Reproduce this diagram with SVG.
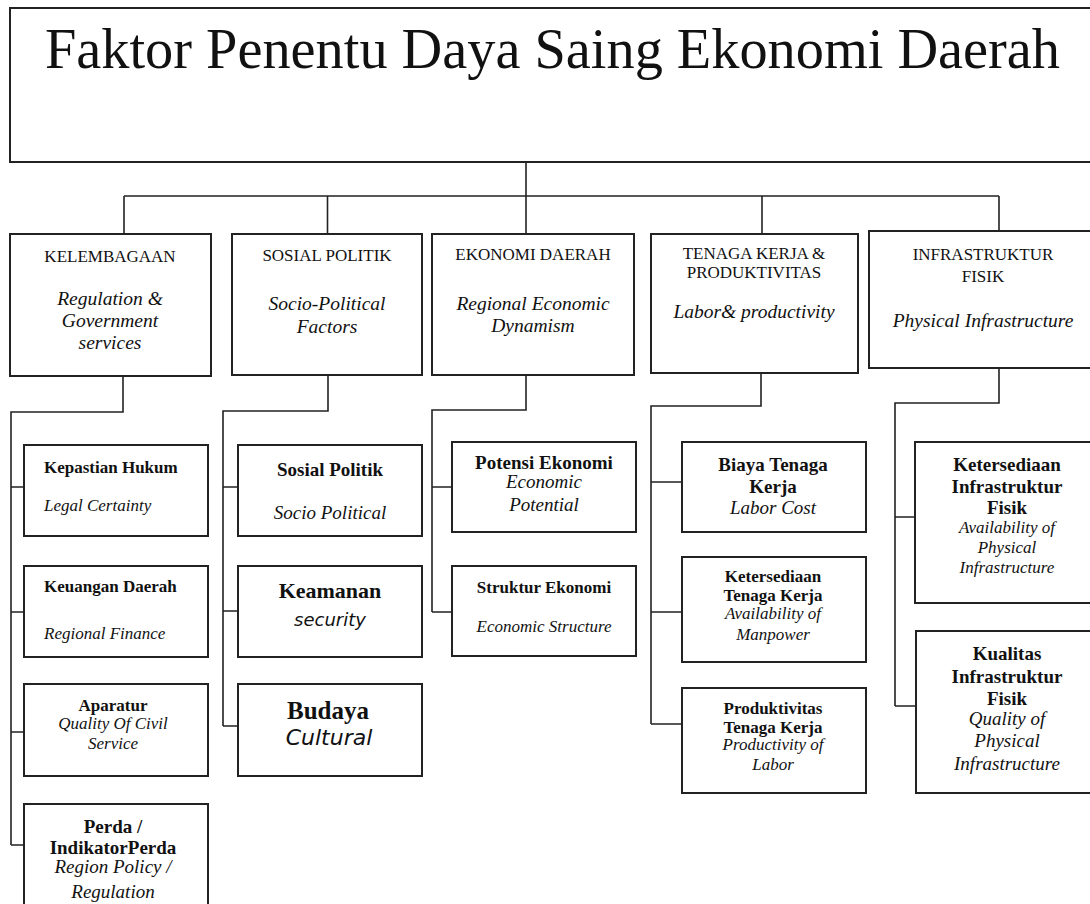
<svg xmlns="http://www.w3.org/2000/svg" width="1090" height="904" viewBox="0 0 1090 904" font-family="'Liberation Serif', 'DejaVu Serif', serif">
<style>
rect{fill:#fff;stroke:#222;stroke-width:2}
.c path{fill:none;stroke:#222;stroke-width:1.6}
text{font-family:'Liberation Serif','DejaVu Serif',serif;fill:#111}
.m{text-anchor:middle}
.h{font-size:17px}
.hi{font-size:19.5px;font-style:italic}
.b{font-size:17px;font-weight:bold}
.b19{font-size:19px;font-weight:bold}
.i{font-size:17px;font-style:italic}
.i19{font-size:19px;font-style:italic}
text.s{font-family:'DejaVu Sans',sans-serif;font-style:italic}
</style>
<rect width="1090" height="904" style="fill:#fff;stroke:none"/>
<g class="c" id="connectors">
<path d="M526,162V196M124,196H999M124,196V234M327.5,196V234M526,196V234M762,196V234M999,196V231"/>
<path d="M123,376V412H11V845M11,487H24M11,612H24M11,732H24M11,845H24"/>
<path d="M328,375V411H223V726M223,487H238M223,611H238M223,726H238"/>
<path d="M526,375V410H432V612M432,487H452M432,612H452"/>
<path d="M761,373V406H651V724M651,482H682M651,612H682M651,724H682"/>
<path d="M999,368V403H895V706M895,517H915M895,706H915"/>
</g>
<g id="title">
<rect x="10" y="8" width="1090" height="154"/>
<text x="45" y="68" font-size="56" textLength="1015" lengthAdjust="spacingAndGlyphs">Faktor Penentu Daya Saing Ekonomi Daerah</text>
</g>
<g id="kelembagaan">
<rect x="10" y="234" width="201" height="142"/>
<text class="h m" x="110" y="262">KELEMBAGAAN</text>
<text class="hi m" x="110" y="305">Regulation &amp;</text>
<text class="hi m" x="110" y="327">Government</text>
<text class="hi m" x="110" y="349">services</text>
</g>
<g id="sosialpolitik">
<rect x="232" y="234" width="190" height="141"/>
<text class="h m" x="327" y="261">SOSIAL POLITIK</text>
<text class="hi m" x="327" y="310">Socio-Political</text>
<text class="hi m" x="327" y="333">Factors</text>
</g>
<g id="ekonomidaerah">
<rect x="432" y="234" width="202" height="141"/>
<text class="h m" x="533" y="260">EKONOMI DAERAH</text>
<text class="hi m" x="533" y="310">Regional Economic</text>
<text class="hi m" x="533" y="332">Dynamism</text>
</g>
<g id="tenagakerja">
<rect x="651" y="234" width="207" height="139"/>
<text class="h m" x="754" y="259">TENAGA KERJA &amp;</text>
<text class="h m" x="754" y="278">PRODUKTIVITAS</text>
<text class="hi m" x="754" y="318">Labor&amp; productivity</text>
</g>
<g id="infrastruktur">
<rect x="869" y="231" width="230" height="137"/>
<text class="h m" x="983" y="260">INFRASTRUKTUR</text>
<text class="h m" x="983" y="282">FISIK</text>
<text class="hi m" x="983" y="327">Physical Infrastructure</text>
</g>
<g id="kepastian">
<rect x="24" y="445" width="184" height="91"/>
<text class="b" x="44" y="473">Kepastian Hukum</text>
<text class="i" x="44" y="511">Legal Certainty</text>
</g>
<g id="keuangan">
<rect x="24" y="566" width="184" height="91"/>
<text class="b" x="44" y="592">Keuangan Daerah</text>
<text class="i" x="44" y="639">Regional Finance</text>
</g>
<g id="aparatur">
<rect x="24" y="684" width="184" height="92"/>
<text class="b m" x="113" y="711">Aparatur</text>
<text class="i m" x="113" y="729">Quality Of Civil</text>
<text class="i m" x="113" y="749">Service</text>
</g>
<g id="perda">
<rect x="24" y="804" width="184" height="110"/>
<text class="b19 m" x="113" y="833">Perda /</text>
<text class="b19 m" x="113" y="854">IndikatorPerda</text>
<text class="i19 m" x="113" y="873">Region Policy /</text>
<text class="i19 m" x="113" y="898">Regulation</text>
</g>
<g id="sosial">
<rect x="238" y="445" width="184" height="91"/>
<text class="b19 m" x="330" y="476">Sosial Politik</text>
<text class="i19 m" x="330" y="519">Socio Political</text>
</g>
<g id="keamanan">
<rect x="238" y="566" width="184" height="91"/>
<text class="m" x="330" y="598" font-size="22" font-weight="bold">Keamanan</text>
<text class="m s" x="330" y="626" font-size="18">security</text>
</g>
<g id="budaya">
<rect x="238" y="684" width="184" height="92"/>
<text class="m" x="328" y="719" font-size="25" font-weight="bold">Budaya</text>
<text class="m s" x="329" y="745" font-size="22">Cultural</text>
</g>
<g id="potensi">
<rect x="452" y="442" width="184" height="90"/>
<text class="b19 m" x="544" y="469">Potensi Ekonomi</text>
<text class="i19 m" x="544" y="488">Economic</text>
<text class="i19 m" x="544" y="511">Potential</text>
</g>
<g id="struktur">
<rect x="452" y="566" width="184" height="90"/>
<text class="b m" x="544" y="593">Struktur Ekonomi</text>
<text class="i m" x="544" y="632" font-size="16">Economic Structure</text>
</g>
<g id="biaya">
<rect x="682" y="442" width="184" height="90"/>
<text class="b19 m" x="773" y="471">Biaya Tenaga</text>
<text class="b19 m" x="773" y="493">Kerja</text>
<text class="i19 m" x="773" y="514">Labor Cost</text>
</g>
<g id="ketersediaantk">
<rect x="682" y="557" width="184" height="105"/>
<text class="b m" x="773" y="582">Ketersediaan</text>
<text class="b m" x="773" y="601">Tenaga Kerja</text>
<text class="i m" x="773" y="619">Availability of</text>
<text class="i m" x="773" y="640">Manpower</text>
</g>
<g id="produktivitas">
<rect x="682" y="688" width="184" height="105"/>
<text class="b m" x="773" y="714">Produktivitas</text>
<text class="b m" x="773" y="733">Tenaga Kerja</text>
<text class="i m" x="773" y="750">Productivity of</text>
<text class="i m" x="773" y="770">Labor</text>
</g>
<g id="ketersediaanif">
<rect x="915" y="442" width="185" height="161"/>
<text class="b19 m" x="1007" y="471">Ketersediaan</text>
<text class="b19 m" x="1007" y="493">Infrastruktur</text>
<text class="b19 m" x="1007" y="514">Fisik</text>
<text class="i m" x="1007" y="533">Availability of</text>
<text class="i m" x="1007" y="553">Physical</text>
<text class="i m" x="1007" y="573">Infrastructure</text>
</g>
<g id="kualitas">
<rect x="916" y="631" width="184" height="162"/>
<text class="b19 m" x="1007" y="660">Kualitas</text>
<text class="b19 m" x="1007" y="683">Infrastruktur</text>
<text class="b19 m" x="1007" y="705">Fisik</text>
<text class="i19 m" x="1007" y="725">Quality of</text>
<text class="i19 m" x="1007" y="747">Physical</text>
<text class="i19 m" x="1007" y="770">Infrastructure</text>
</g>
</svg>
